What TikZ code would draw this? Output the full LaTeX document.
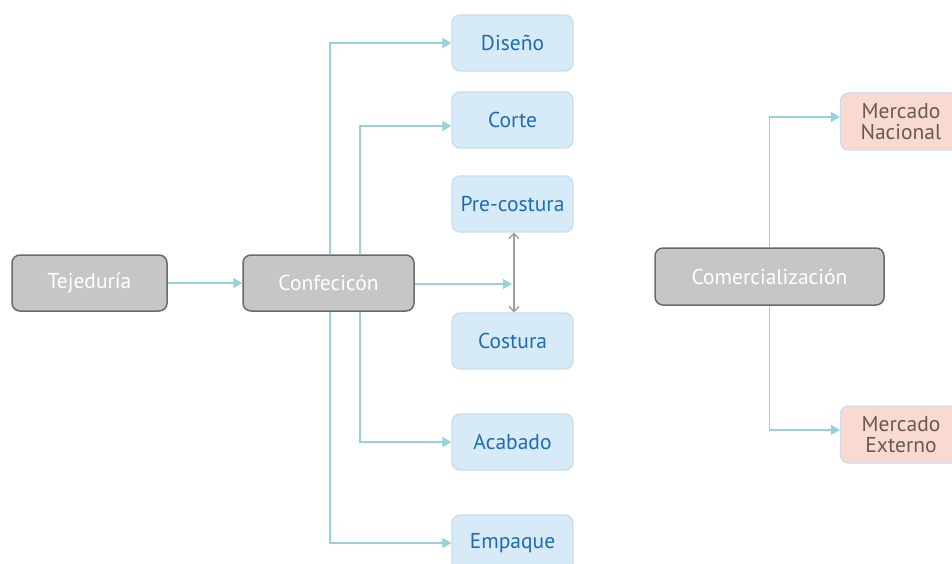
\documentclass[tikz,border=0pt]{standalone}
\usepackage{fontspec}
\setmainfont{PT Sans}
\usetikzlibrary{arrows.meta}

\definecolor{Cboxgray}{HTML}{C6C6C6}
\definecolor{Cedgegray}{HTML}{6A6A6A}
\definecolor{Cboxblue}{HTML}{D7EAF7}
\definecolor{Cedgeblue}{HTML}{CCDCEB}
\definecolor{Ctextblue}{HTML}{1F6CB5}
\definecolor{Cboxrose}{HTML}{F9DAD0}
\definecolor{Ctextbrown}{HTML}{6A5A4C}
\definecolor{Clinecyan}{HTML}{97D2DC}
\definecolor{Clinegray}{HTML}{A0A0A0}

\tikzset{
	mainbox/.style={draw=Cedgegray,fill=Cboxgray,line width=1.5pt,rounded corners=8pt,
		minimum height=56pt,text=white,font=\fontsize{21.5}{23}\selectfont},
	subbox/.style={draw=Cedgeblue,fill=Cboxblue,line width=1.3pt,rounded corners=8pt,
		minimum width=121pt,minimum height=56pt,text=Ctextblue,font=\fontsize{21.5}{23}\selectfont},
	marketbox/.style={draw=Cedgeblue,fill=Cboxrose,line width=1.3pt,rounded corners=8pt,
		minimum width=121pt,minimum height=57pt,text=Ctextbrown,align=center,
		font=\fontsize{21.5}{21}\selectfont},
	link/.style={draw=Clinecyan,line width=1.8pt,-{Triangle[length=9pt,width=10pt]}},
	swap/.style={draw=Clinegray,line width=1.4pt,{Straight Barb[length=5pt,width=10pt]}-{Straight Barb[length=5pt,width=10pt]}}
}

\begin{document}
\begin{tikzpicture}[x=1pt,y=-1pt]
		\clip (0,0) rectangle (952,564);
		\fill[white] (0,0) rectangle (952,564);
		% main chain
		\node[mainbox,minimum width=155pt] (tej) at (89.5,283) {Tejeduría};
		\node[mainbox,minimum width=171pt] (conf) at (328.5,283) {Confecicón};
		\node[mainbox,minimum width=229pt,minimum height=57pt] (com) at (769.5,276.5) {Comercialización};
		% stages
		\node[subbox] (dis) at (512.5,43) {Diseño};
		\node[subbox] (cor) at (512.5,120) {Corte};
		\node[subbox] (pre) at (512.5,204) {Pre-costura};
		\node[subbox] (cos) at (512.5,341) {Costura};
		\node[subbox] (aca) at (512.5,442) {Acabado};
		\node[subbox] (emp) at (512.5,543) {Empaque};
		% markets
		\node[marketbox] (nac) at (901,121.5) {Mercado\\Nacional};
		\node[marketbox] (ext) at (901,434.5) {Mercado\\Externo};
		\coordinate (mid) at (512,284);
		\draw[link] (tej) -- (conf);
		\draw[link] ([xshift=1.5pt]conf.north) |- (dis.west);
		\draw[link] ([xshift=31.5pt]conf.north) |- ([yshift=-6pt]cor.west);
		\draw[link] ([xshift=1.5pt]conf.south) |- (emp.west);
		\draw[link] ([xshift=31.5pt]conf.south) |- (aca.west);
		\draw[link] (conf.east |- mid) -- (mid);
		\draw[swap] ([xshift=1.5pt]pre.south) -- ([xshift=1.5pt]cos.north);
		\draw[link] (com.north) |- ([yshift=4.5pt]nac.west);
		\draw[link] (com.south) |- ([yshift=4.5pt]ext.west);
	\end{tikzpicture}
\end{document}
